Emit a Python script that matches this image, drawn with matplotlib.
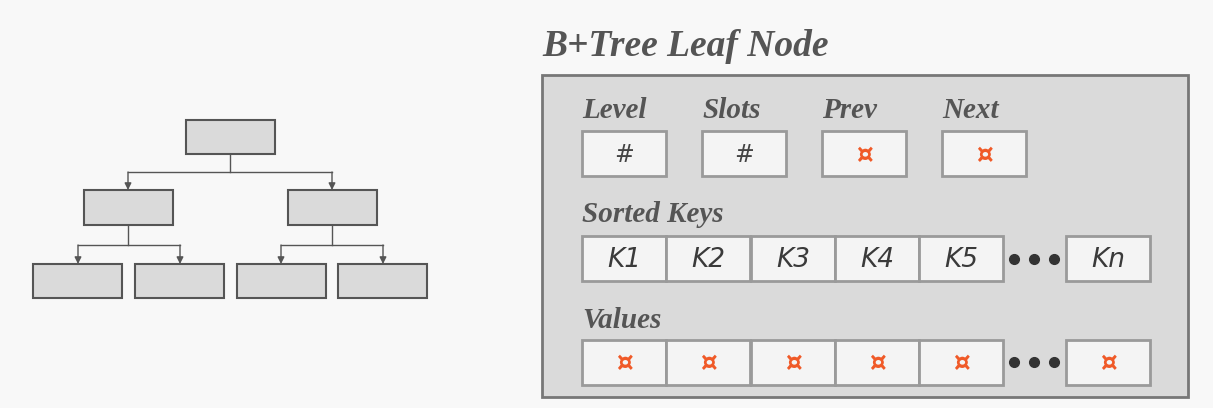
import matplotlib
matplotlib.use("Agg")
import matplotlib.pyplot as plt
from matplotlib.patches import Rectangle

title = "B+Tree Leaf Node"
header_labels = ["Level", "Slots", "Prev", "Next"]
header_values = ["#", "#", "¤", "¤"]
keys = ["K1", "K2", "K3", "K4", "K5", "Kn"]
value_sym = "¤"

fig = plt.figure(figsize=(12.13, 4.08), dpi=100)
fig.patch.set_facecolor("#f8f8f8")
ax = fig.add_axes([0, 0, 1, 1])
ax.set_xlim(0, 1213); ax.set_ylim(408, 0); ax.axis("off")

def box(x0, y0, x1, y1, fc, ec, lw):
    ax.add_patch(Rectangle((x0, y0), x1 - x0, y1 - y0, fc=fc, ec=ec, lw=lw))

# tree
tc = "#dadada"; te = "#555555"; lc = "#555555"
box(186, 120, 275, 154, tc, te, 1.5)
for x in (84, 288):
    box(x, 190, x + 89, 225, tc, te, 1.5)
for x in (33, 135, 237, 338):
    box(x, 264, x + 89, 298, tc, te, 1.5)
def arrow(x, y0, y1):
    ax.annotate("", xy=(x, y1), xytext=(x, y0),
                arrowprops=dict(arrowstyle="-|>", color=lc, lw=1, mutation_scale=10, shrinkA=0, shrinkB=0))
ax.plot([230, 230], [154, 172], color=lc, lw=1)
ax.plot([128, 332], [172, 172], color=lc, lw=1)
arrow(128, 172, 190); arrow(332, 172, 190)
for c, l, r in ((128, 78, 180), (332, 281, 383)):
    ax.plot([c, c], [225, 245], color=lc, lw=1)
    ax.plot([l, r], [245, 245], color=lc, lw=1)
    arrow(l, 245, 264); arrow(r, 245, 264)

# leaf node
tf = dict(family="Liberation Serif", weight="bold", style="italic", color="#555555")
ax.text(542, 47, title, fontsize=27, va="center", ha="left", **tf)
box(542, 75, 1188, 397, "#dadada", "#777777", 2)

ec = "#9a9a9a"; fc = "#f4f4f4"; orange = "#f05a28"
hx = [582, 702, 822, 942]
for x, lab, v in zip(hx, header_labels, header_values):
    ax.text(x, 110, lab, fontsize=21, va="center", ha="left", **tf)
    box(x, 131, x + 84, 176, fc, ec, 2)
    if v == "#":
        ax.text(x + 42, 155, v, fontsize=17, ha="center", va="center", color="#444444")
    else:
        ax.text(x + 42, 156, v, fontsize=19, ha="center", va="center", color=orange, weight="bold")

ax.text(582, 215, "Sorted Keys", fontsize=21, va="center", ha="left", **tf)
ax.text(582, 320, "Values", fontsize=21, va="center", ha="left", **tf)
kx = [582, 666, 751, 835, 919, 1066]
for x, k in zip(kx, keys):
    box(x, 236, x + 84, 281, fc, ec, 2)
    ax.text(x + 42, 260, k, fontsize=19, style="italic", ha="center", va="center", color="#3a3a3a", family="DejaVu Sans")
    box(x, 340, x + 84, 385, fc, ec, 2)
    ax.text(x + 42, 364, value_sym, fontsize=19, ha="center", va="center", color=orange, weight="bold")
for y in (259, 362):
    ax.plot([1014, 1034, 1054], [y, y, y], "o", color="#333333", ms=7)

fig.savefig("out.png", dpi=100, facecolor=fig.get_facecolor())
